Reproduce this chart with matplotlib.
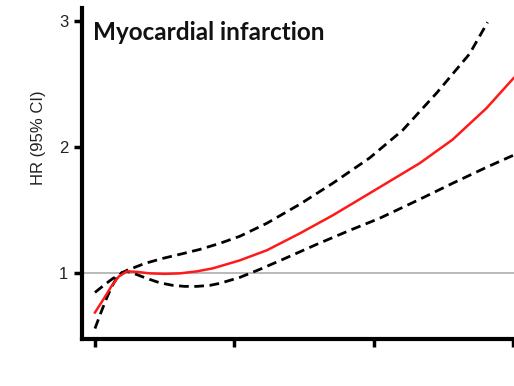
import matplotlib.pyplot as plt

# spline estimate and 95% CI (x in tick units)
x_hr = [0, 0.065, 0.122, 0.172, 0.229, 0.301, 0.394, 0.502, 0.609, 0.731, 0.846,
        1.039, 1.233, 1.470, 1.706, 1.971, 2.330, 2.566, 2.810, 3.004]
hr = [0.690, 0.802, 0.905, 0.976, 1.016, 1.012, 1.0, 0.996, 1.0, 1.016, 1.040,
      1.103, 1.183, 1.317, 1.460, 1.635, 1.873, 2.060, 2.310, 2.548]

x_up = [0, 0.072, 0.129, 0.229, 0.358, 0.487, 0.609, 0.753, 0.896, 1.039,
        1.233, 1.470, 1.706, 1.971, 2.208, 2.452, 2.688, 2.817]
hr_up = [0.849, 0.913, 0.960, 1.024, 1.079, 1.119, 1.151, 1.190, 1.238, 1.294,
         1.397, 1.548, 1.714, 1.915, 2.135, 2.430, 2.740, 2.990]

x_lo = [0, 0.043, 0.086, 0.122, 0.158, 0.194, 0.229, 0.287, 0.373, 0.466, 0.559,
        0.645, 0.731, 0.824, 0.896, 1.039, 1.183, 1.348, 1.591, 1.828, 2.043,
        2.330, 2.566, 2.810, 3.004]
hr_lo = [0.563, 0.690, 0.810, 0.897, 0.968, 1.008, 1.016, 0.996, 0.960, 0.925, 0.905,
         0.897, 0.897, 0.905, 0.921, 0.968, 1.032, 1.111, 1.230, 1.341, 1.437,
         1.587, 1.714, 1.841, 1.937]

x_ticks = [0, 1, 2, 3]
y_ticks = [1, 2, 3]

plt.rcParams['font.family'] = ['Liberation Sans', 'DejaVu Sans']

fig = plt.figure(figsize=(5.14, 3.86), dpi=100)
ax = fig.add_axes([82 / 514, 47 / 386, 445 / 514, 330.6 / 386])

ax.axhline(1, color='#b4b4b4', lw=1.3, zorder=1)
ax.plot(x_hr, hr, color='#ff1a1a', lw=1.8, zorder=3)
ax.plot(x_up, hr_up, color='black', lw=2, dashes=(3.5, 2), zorder=2)
ax.plot(x_lo, hr_lo, color='black', lw=2, dashes=(3.5, 2), zorder=2)

ax.set_xlim(-0.093, 3.1)
ax.set_ylim(0.48, 3.1)
ax.set_xticks(x_ticks)
ax.set_xticklabels([])
ax.set_yticks(y_ticks)
ax.set_yticklabels([str(t) for t in y_ticks], fontsize=12, color='#222222')

for s in ['top', 'right']:
    ax.spines[s].set_visible(False)
for s in ['left', 'bottom']:
    ax.spines[s].set_linewidth(3)
ax.tick_params(axis='both', direction='out', length=6, width=2.5, pad=4)

fig.text(38 / 514, 1 - 138 / 386, 'HR (95% CI)', rotation=90, fontsize=12,
         color='#222222', ha='center', va='center')
fig.text(93 / 514, 1 - 33 / 386, 'Myocardial infarction',
         fontsize=17.5, fontweight='bold', family=['Lato', 'DejaVu Sans'],
         va='center', ha='left', color='#111111')

# top of the next panel, cut off by the crop
ax2 = fig.add_axes([80 / 514, -40 / 386, 445 / 514, 32 / 386])
ax2.set_ylim(0, 1)
ax2.set_yticks([0.5])
ax2.set_yticklabels(['3'], fontsize=12, color='#222222')
ax2.set_xticks([])
for s in ['top', 'right', 'bottom']:
    ax2.spines[s].set_visible(False)
ax2.spines['left'].set_linewidth(3)
ax2.tick_params(axis='y', direction='out', length=6, width=2.5, pad=4)
ax2.set_facecolor('none')

fig.savefig('out.png', dpi=100)
